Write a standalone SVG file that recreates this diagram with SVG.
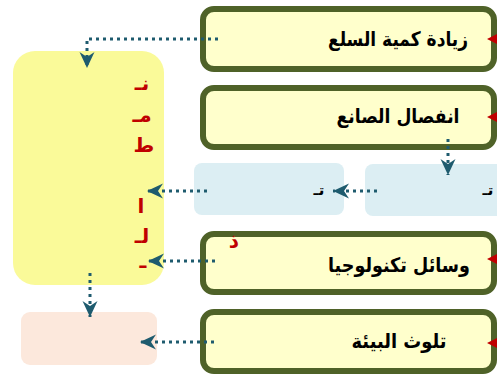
<svg xmlns="http://www.w3.org/2000/svg" width="497" height="376" viewBox="0 0 497 376">
  <style>
    .cause { fill: #FFFFCC; stroke: #4F6228; stroke-width: 6; }
    .label { font-family: "DejaVu Sans", sans-serif; font-weight: bold; font-size: 20px; fill: #000; text-anchor: middle; }
    .tiny { font-family: "DejaVu Sans", sans-serif; font-weight: bold; font-size: 15px; fill: #000; text-anchor: middle; }
    .red { font-family: "DejaVu Sans", sans-serif; font-weight: bold; font-size: 20px; fill: #C00000; text-anchor: middle; }
    .flow { fill: none; stroke: #1E5B6E; stroke-width: 3; stroke-dasharray: 3 4; }
    .tip { fill: #C00000; }
  </style>
  <defs>
    <marker id="arr" viewBox="0 0 16 16" refX="16" refY="8" markerWidth="16" markerHeight="16" markerUnits="userSpaceOnUse" orient="auto">
      <path d="M0,0.5 L16,8 L0,15.5 L5,8 Z" fill="#1E5B6E"/>
    </marker>
  </defs>

  <!-- central yellow panel -->
  <g id="panel">
    <rect x="13" y="51" width="151" height="234" rx="22" fill="#FAFA99"/>
    <text class="red" x="142" y="90">نـ</text>
    <text class="red" x="142" y="122">مـ</text>
    <text class="red" x="144" y="152">ط</text>
    <text class="red" x="141" y="213">ا</text>
    <text class="red" x="142" y="243">لـ</text>
    <text class="red" x="143" y="268" font-size="13">ـ</text>
  </g>

  <!-- result box -->
  <g id="result">
    <rect x="21" y="312" width="136" height="53" rx="9" fill="#FCE8DC"/>
  </g>

  <!-- blue intermediate boxes -->
  <g id="mid-left">
    <rect x="194" y="163" width="150" height="52" rx="8" fill="#DCEEF3"/>
    <text class="tiny" x="319" y="195">تـ</text>
  </g>
  <g id="mid-right">
    <rect x="365" y="164" width="140" height="52" rx="8" fill="#DCEEF3"/>
    <text class="tiny" x="488" y="195">تـ</text>
  </g>

  <!-- cause boxes -->
  <g id="cause-1">
    <rect class="cause" x="203" y="9" width="291" height="60" rx="11"/>
    <text class="label" x="398" y="46" textLength="140" lengthAdjust="spacingAndGlyphs">زيادة كمية السلع</text>
    <path class="tip" d="M487,39 L497,34 L497,44 Z"/>
  </g>
  <g id="cause-2">
    <rect class="cause" x="203" y="88" width="291" height="59" rx="11"/>
    <text class="label" x="398" y="123" textLength="123" lengthAdjust="spacingAndGlyphs">انفصال الصانع</text>
    <path class="tip" d="M487,117 L497,112 L497,122 Z"/>
  </g>
  <g id="cause-3">
    <rect class="cause" x="203" y="234" width="291" height="58" rx="11"/>
    <text class="label" x="399" y="272" textLength="142" lengthAdjust="spacingAndGlyphs">وسائل تكنولوجيا</text>
    <text class="red" x="234" y="247" font-size="12">ذ</text>
    <path class="tip" d="M487,259 L497,254 L497,264 Z"/>
  </g>
  <g id="cause-4">
    <rect class="cause" x="203" y="312" width="291" height="59" rx="11"/>
    <text class="label" x="399" y="348" textLength="95" lengthAdjust="spacingAndGlyphs">تلوث البيئة</text>
    <path class="tip" d="M487,343 L497,338 L497,348 Z"/>
  </g>

  <!-- connectors -->
  <g id="connectors">
    <path class="flow" d="M218,39 H87 V68" marker-end="url(#arr)"/>
    <path class="flow" d="M448,139 V175" marker-end="url(#arr)"/>
    <path class="flow" d="M377,191 H333" marker-end="url(#arr)"/>
    <path class="flow" d="M207,191 H147" marker-end="url(#arr)"/>
    <path class="flow" d="M215,261 H148" marker-end="url(#arr)"/>
    <path class="flow" d="M90,273 V317" marker-end="url(#arr)"/>
    <path class="flow" d="M214,342 H140" marker-end="url(#arr)"/>
  </g>
</svg>
